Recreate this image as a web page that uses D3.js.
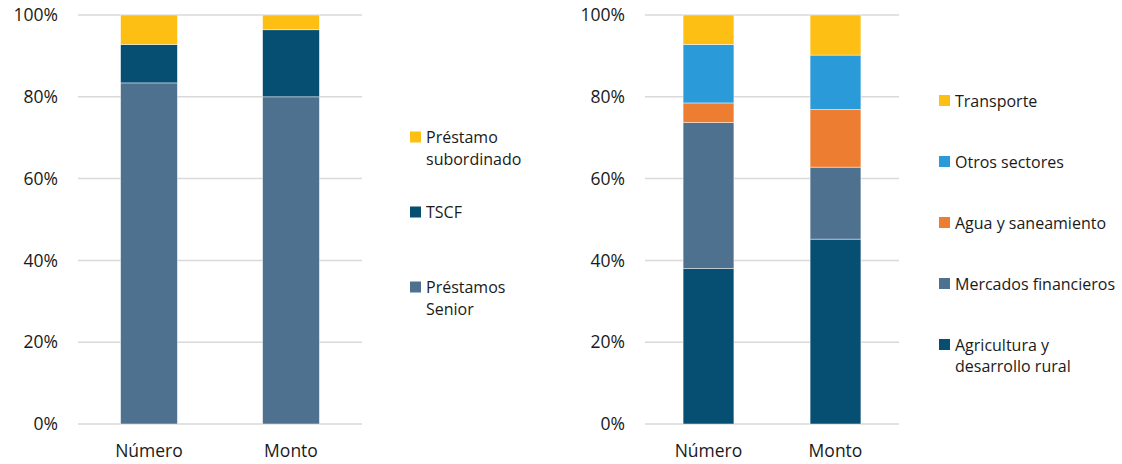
<!DOCTYPE html>
<html lang="es">
<head>
<meta charset="UTF-8">
<script src="https://d3js.org/d3.v7.min.js"></script>
<style>
  body { margin: 0; background: #fff; }
  svg text { font-family: "Open Sans", "Liberation Sans", sans-serif; fill: #1a1a1a; }
</style>
</head>
<body>
<div id="chart"></div>
<script>
// categories shared by both panels
const categories = ["Número", "Monto"];
const yTicks = [0, 0.2, 0.4, 0.6, 0.8, 1];

// left panel: tipo de instrumento (shares, bottom to top)
const leftSeries = ["Préstamos Senior", "TSCF", "Préstamo subordinado"];
const leftLabels = [["Préstamos", "Senior"], ["TSCF"], ["Préstamo", "subordinado"]];
const leftNumero = [0.834, 0.094, 0.072];
const leftMonto = [0.800, 0.164, 0.036];
const leftColors = ["#4e7190", "#074f72", "#fdbf14"];

// right panel: sector (shares, bottom to top)
const rightSeries = ["Agricultura y desarrollo rural", "Mercados financieros", "Agua y saneamiento", "Otros sectores", "Transporte"];
const rightLabels = [["Agricultura y", "desarrollo rural"], ["Mercados financieros"], ["Agua y saneamiento"], ["Otros sectores"], ["Transporte"]];
const rightNumero = [0.380, 0.357, 0.048, 0.143, 0.072];
const rightMonto = [0.452, 0.176, 0.141, 0.133, 0.098];
const rightColors = ["#074f72", "#4e7190", "#ed7d31", "#2a9bd8", "#fdbf14"];

const width = 1122, height = 464;
const svg = d3.select("#chart").append("svg")
    .attr("width", width)
    .attr("height", height);

const y = d3.scaleLinear().domain([0, 1]).range([424, 15]);

function panel(opts) {
    const x = d3.scaleBand()
        .domain(categories)
        .range([opts.x0, opts.x1])
        .paddingInner(0.6)
        .paddingOuter(0.3);

    const g = svg.append("g");

    // gridlines
    g.selectAll("line.grid")
        .data(yTicks)
        .enter().append("line")
        .attr("x1", opts.x0)
        .attr("x2", opts.x1)
        .attr("y1", d => y(d))
        .attr("y2", d => y(d))
        .attr("stroke", "#d9d9d9")
        .attr("stroke-width", 1.5);

    // tick labels
    g.selectAll("text.tick")
        .data(yTicks)
        .enter().append("text")
        .attr("x", opts.x0 - 20)
        .attr("y", d => y(d))
        .attr("dy", "0.35em")
        .attr("text-anchor", "end")
        .style("font-size", "17.5px")
        .text(d => d3.format(".0%")(d));

    // stacked data
    const rows = categories.map((c, i) => {
        const row = { cat: c };
        opts.series.forEach((s, j) => row[s] = opts.values[i][j]);
        return row;
    });
    const stacked = d3.stack().keys(opts.series)(rows);

    g.selectAll("g.layer")
        .data(stacked)
        .enter().append("g")
        .attr("fill", (d, i) => opts.colors[i])
        .selectAll("rect")
        .data(d => d)
        .enter().append("rect")
        .attr("x", d => x(d.data.cat))
        .attr("width", x.bandwidth())
        .attr("y", d => y(d[1]))
        .attr("height", d => y(d[0]) - y(d[1]))
        .attr("stroke", "#ffffff")
        .attr("stroke-opacity", 0.6)
        .attr("stroke-width", 0.75);

    // category labels
    g.selectAll("text.cat")
        .data(categories)
        .enter().append("text")
        .attr("x", d => x(d) + x.bandwidth() / 2)
        .attr("y", 457)
        .attr("text-anchor", "middle")
        .style("font-size", "17.5px")
        .text(d => d);

    // legend, top item first
    const items = opts.series.map((s, i) => ({ color: opts.colors[i], lines: opts.labels[i] })).reverse();
    const lg = g.selectAll("g.legend")
        .data(items)
        .enter().append("g")
        .attr("transform", (d, i) => `translate(${opts.lx},${opts.ly + i * opts.lstep})`);

    lg.append("rect")
        .attr("x", 0)
        .attr("y", -11.5)
        .attr("width", 11)
        .attr("height", 11)
        .attr("fill", d => d.color);

    lg.append("text")
        .attr("x", 16)
        .style("font-size", "16px")
        .selectAll("tspan")
        .data(d => d.lines)
        .enter().append("tspan")
        .attr("x", 16)
        .attr("y", (d, i) => i * 21.5)
        .text(d => d);
}

panel({
    x0: 78, x1: 362,
    series: leftSeries, labels: leftLabels, colors: leftColors,
    values: [leftNumero, leftMonto],
    lx: 410, ly: 143, lstep: 75
});

panel({
    x0: 645, x1: 899,
    series: rightSeries, labels: rightLabels, colors: rightColors,
    values: [rightNumero, rightMonto],
    lx: 939, ly: 106.5, lstep: 61
});
</script>
</body>
</html>
